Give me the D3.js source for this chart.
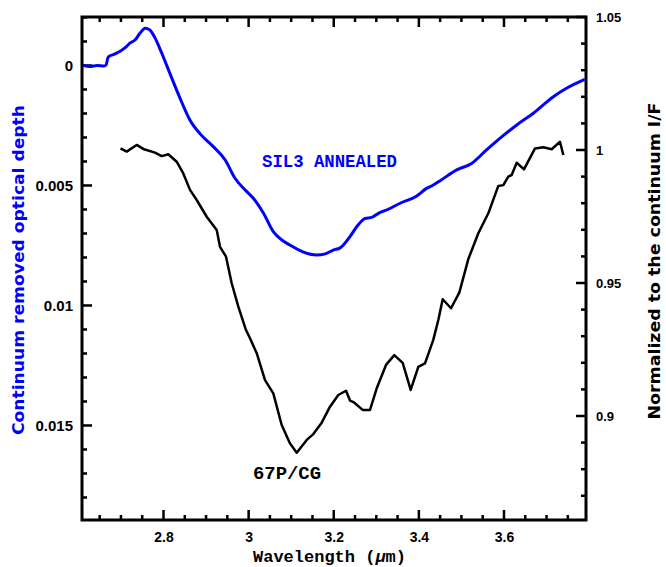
<!DOCTYPE html>
<html>
<head>
<meta charset="utf-8">
<script src="https://cdn.jsdelivr.net/npm/d3@7"></script>
<style>
  body { margin: 0; background: #fff; }
</style>
</head>
<body>
<svg id="chart" width="666" height="567"></svg>
<script>
// Laboratory spectrum: annealed silicate SIL3, continuum-removed optical depth
const silWavelength = [2.612, 2.627, 2.644, 2.660, 2.665, 2.670, 2.686, 2.703, 2.714, 2.721, 2.733, 2.745,
  2.757, 2.768, 2.780, 2.796, 2.815, 2.839, 2.862, 2.886, 2.917, 2.945, 2.968, 2.992, 3.011, 3.035, 3.058,
  3.078, 3.097, 3.129, 3.160, 3.180, 3.199, 3.215, 3.238, 3.254, 3.274, 3.289, 3.305, 3.328, 3.356, 3.395,
  3.418, 3.434, 3.450, 3.489, 3.524, 3.559, 3.591, 3.630, 3.669, 3.716, 3.747, 3.790];
const silDepth = [0, 0.00004, 0, 0.00002, -0.00002, -0.00035, -0.00048, -0.00065, -0.00081, -0.00093, -0.00106, -0.00135,
  -0.00155, -0.00148, -0.00115, -0.00051, 0.00033, 0.00137, 0.00227, 0.00285, 0.00338, 0.00394, 0.0047, 0.00519, 0.00553, 0.00616, 0.00692,
  0.00727, 0.00748, 0.00778, 0.0079, 0.00785, 0.00769, 0.0076, 0.00713, 0.00672, 0.00637, 0.00633, 0.00616, 0.00599, 0.00574, 0.00544,
  0.00512, 0.00498, 0.0048, 0.00435, 0.00408, 0.00352, 0.00303, 0.00248, 0.00199, 0.0013, 0.00095, 0.00058];

// Comet 67P/CG reflectance normalized to the continuum
const cometWavelength = [2.699, 2.7135, 2.737, 2.7525, 2.780, 2.7958, 2.8113, 2.831, 2.8465, 2.8623, 2.878, 2.9015,
  2.925, 2.9328, 2.9469, 2.9602, 2.9758, 2.9938, 3.0032, 3.019, 3.0385, 3.058, 3.0777, 3.0972, 3.113, 3.1365,
  3.152, 3.1717, 3.1912, 3.2107, 3.2288, 3.2382, 3.2476, 3.268, 3.2852, 3.301, 3.3228, 3.3423, 3.362, 3.3808,
  3.3987, 3.4144, 3.4339, 3.4457, 3.456, 3.4755, 3.495, 3.5162, 3.5397, 3.5632, 3.5867, 3.5984, 3.6101, 3.6181,
  3.6299, 3.647, 3.6729, 3.6924, 3.7121, 3.7316, 3.7394];
const cometIF = [1.0006, 0.9994, 1.0019, 1.0004, 0.999, 0.9977, 0.9984, 0.9956, 0.9912, 0.985, 0.9812, 0.9749,
  0.9699, 0.9636, 0.9599, 0.9499, 0.9411, 0.9323, 0.9292, 0.9236, 0.9135, 0.9085, 0.8966, 0.8897, 0.8862, 0.891,
  0.8932, 0.8975, 0.9035, 0.9079, 0.9095, 0.9058, 0.9051, 0.9023, 0.9023, 0.9104, 0.9192, 0.9229, 0.92, 0.9098,
  0.9185, 0.9198, 0.9286, 0.9361, 0.9439, 0.9405, 0.9464, 0.959, 0.9687, 0.9762, 0.9865, 0.9868, 0.99, 0.9906,
  0.9952, 0.9927, 1.0006, 1.001, 1.0003, 1.0031, 0.9981];

// Tick values and labels
const xMajor = [2.8, 3.0, 3.2, 3.4, 3.6];
const xMajorLabels = ["2.8", "3", "3.2", "3.4", "3.6"];
const xMinor = [2.65, 2.7, 2.75, 2.85, 2.9, 2.95, 3.05, 3.1, 3.15, 3.25, 3.3, 3.35, 3.45, 3.5, 3.55, 3.65, 3.7, 3.75];
const depthMajor = [0, 0.005, 0.01, 0.015];
const depthMajorLabels = ["0", "0.005", "0.01", "0.015"];
const depthMinor = [-0.002, -0.001, 0.001, 0.002, 0.003, 0.004, 0.006, 0.007, 0.008, 0.009, 0.011, 0.012, 0.013, 0.014, 0.016, 0.017, 0.018];
const ifMajor = [1.05, 1.0, 0.95, 0.9];
const ifMajorLabels = ["1.05", "1", "0.95", "0.9"];
const ifMinor = [1.04, 1.03, 1.02, 1.01, 0.99, 0.98, 0.97, 0.96, 0.94, 0.93, 0.92, 0.91, 0.89, 0.88, 0.87];

const plot = { left: 82, right: 586, top: 17, bottom: 520 };
const majorLen = 10, minorLen = 5, tickW = 2.5;
const tickColor = "#000";
const svg = d3.select("#chart");

const x = d3.scaleLinear().domain([2.6085, 3.7927]).range([plot.left, plot.right]);
const yDepth = d3.scaleLinear().domain([-0.00202, 0.018938]).range([plot.top, plot.bottom]);
const yIF = d3.scaleLinear().domain([1.05, 0.8609]).range([plot.top, plot.bottom]);

const tickFont = "'Liberation Sans', Arial, sans-serif";

// Frame
svg.append("rect")
  .attr("x", plot.left).attr("y", plot.top)
  .attr("width", plot.right - plot.left).attr("height", plot.bottom - plot.top)
  .style("fill", "none").style("stroke", "#000").style("stroke-width", "3px");

// Inward tick marks on all four sides, drawn as small filled bars
const tickLayer = svg.append("g").attr("class", "ticks");
function hTicks(values, len, yEdge, dir) {
  tickLayer.append("g").selectAll("rect").data(values).join("rect")
    .attr("x", v => x(v) - tickW / 2)
    .attr("y", dir > 0 ? yEdge : yEdge - len)
    .attr("width", tickW).attr("height", len)
    .style("fill", tickColor);
}
function vTicks(scale, values, len, xEdge, dir) {
  tickLayer.append("g").selectAll("rect").data(values).join("rect")
    .attr("x", dir > 0 ? xEdge : xEdge - len)
    .attr("y", v => scale(v) - tickW / 2)
    .attr("width", len).attr("height", tickW)
    .style("fill", tickColor);
}
hTicks(xMajor, majorLen, plot.bottom, -1);
hTicks(xMinor, minorLen, plot.bottom, -1);
hTicks(xMajor, majorLen, plot.top, 1);
hTicks(xMinor, minorLen, plot.top, 1);
vTicks(yDepth, depthMajor, majorLen, plot.left, 1);
vTicks(yDepth, depthMinor, minorLen, plot.left, 1);
vTicks(yIF, ifMajor, majorLen, plot.right, -1);
vTicks(yIF, ifMinor, minorLen, plot.right, -1);

function styleLabels(g, size) {
  g.select(".domain").remove();
  g.selectAll(".tick line").remove();
  g.selectAll(".tick text")
    .attr("font-family", tickFont)
    .attr("font-weight", "bold")
    .attr("font-size", size)
    .attr("fill", "#000");
}

// Tick labels from d3 axes
svg.append("g").attr("transform", `translate(0,${plot.bottom})`)
  .call(d3.axisBottom(x).tickValues(xMajor).tickSize(0).tickPadding(12)
    .tickFormat((d, i) => xMajorLabels[i]))
  .call(styleLabels, 14);
svg.append("g").attr("transform", `translate(${plot.left},0)`)
  .call(d3.axisLeft(yDepth).tickValues(depthMajor).tickSize(0).tickPadding(9)
    .tickFormat((d, i) => depthMajorLabels[i]))
  .call(styleLabels, 15);
svg.append("g").attr("transform", `translate(${plot.right},0)`)
  .call(d3.axisRight(yIF).tickValues(ifMajor).tickSize(0).tickPadding(10)
    .tickFormat((d, i) => ifMajorLabels[i]))
  .call(styleLabels, 13);

// Curves
const silLine = d3.line()
  .x((d, i) => x(silWavelength[i]))
  .y(d => yDepth(d))
  .curve(d3.curveMonotoneX);
svg.append("path").datum(silDepth)
  .attr("d", silLine)
  .attr("fill", "none").attr("stroke", "#0000ff").attr("stroke-width", 3)
  .attr("stroke-linejoin", "round");

const cometLine = d3.line()
  .x((d, i) => x(cometWavelength[i]))
  .y(d => yIF(d));
svg.append("path").datum(cometIF)
  .attr("d", cometLine)
  .attr("fill", "none").attr("stroke", "#000").attr("stroke-width", 2.5)
  .attr("stroke-linejoin", "round");

// Curve labels
const monoFont = "'Liberation Mono', 'Courier New', monospace";
svg.append("text")
  .attr("x", 262).attr("y", 167)
  .attr("font-family", monoFont).attr("font-weight", "bold").attr("font-size", 19)
  .attr("textLength", 135).attr("lengthAdjust", "spacingAndGlyphs")
  .attr("fill", "#0000ff")
  .text("SIL3 ANNEALED");
svg.append("text")
  .attr("x", 253).attr("y", 479)
  .attr("font-family", monoFont).attr("font-weight", "bold").attr("font-size", 19)
  .attr("textLength", 68).attr("lengthAdjust", "spacingAndGlyphs")
  .attr("fill", "#000")
  .text("67P/CG");

// X axis title, with an italic mu
const xTitleParts = [
  { text: "Wavelength (", x: 253, italic: false },
  { text: "\u03bc", x: 375.4, italic: true },
  { text: "m)", x: 385.6, italic: false }
];
svg.append("g").selectAll("text").data(xTitleParts).join("text")
  .attr("x", d => d.x).attr("y", 562)
  .attr("font-family", monoFont).attr("font-weight", "bold").attr("font-size", 17)
  .attr("font-style", d => d.italic ? "italic" : "normal")
  .attr("fill", "#000")
  .text(d => d.text);

// Y axis titles
const titleFont = "'DejaVu Sans', Verdana, sans-serif";
svg.append("text")
  .attr("transform", "translate(24,270) rotate(-90)")
  .attr("text-anchor", "middle")
  .attr("font-family", titleFont).attr("font-weight", "bold").attr("font-size", 16)
  .attr("textLength", 330).attr("lengthAdjust", "spacingAndGlyphs")
  .attr("fill", "#0000ff")
  .text("Continuum removed optical depth");
svg.append("text")
  .attr("transform", "translate(660,261) rotate(-90)")
  .attr("text-anchor", "middle")
  .attr("font-family", titleFont).attr("font-weight", "bold").attr("font-size", 16)
  .attr("textLength", 317).attr("lengthAdjust", "spacingAndGlyphs")
  .attr("fill", "#000")
  .text("Normalized to the continuum I/F");
</script>
</body>
</html>
